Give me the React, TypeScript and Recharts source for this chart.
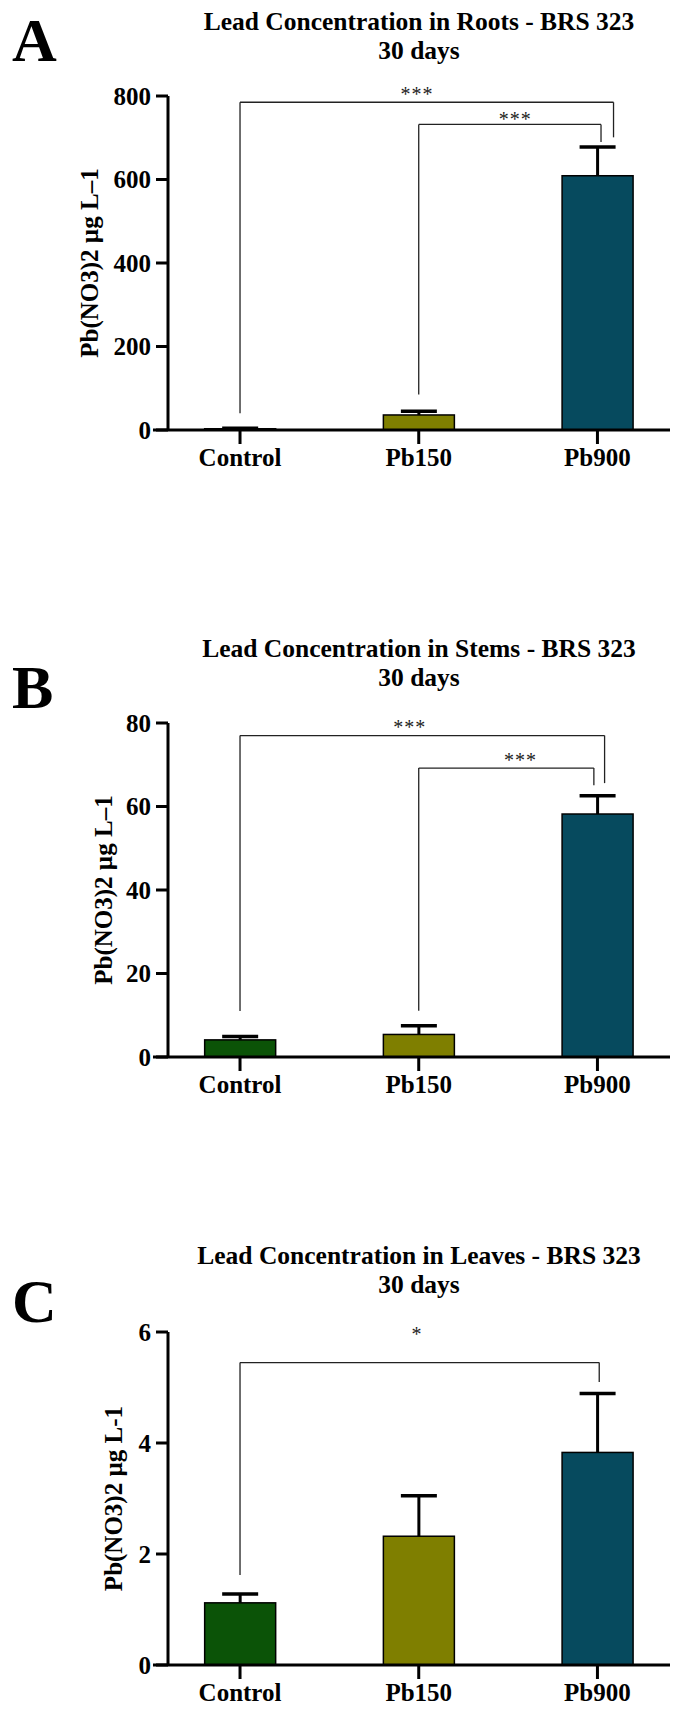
import React from 'react';
import { ComposedChart, Bar, XAxis, YAxis, ReferenceLine, ReferenceDot, Cell } from 'recharts';

// ---------- data ----------
const categories = ['Control', 'Pb150', 'Pb900'];
const categoryPositions = [0, 1, 2];

const rootsMeans = [3, 36, 609];
const rootsErrors = [1, 9, 69];
const stemsMeans = [4.1, 5.4, 58.2];
const stemsErrors = [0.8, 2.1, 4.4];
const leavesMeans = [1.12, 2.32, 3.83];
const leavesErrors = [0.16, 0.73, 1.06];

const rootsTicks = [0, 200, 400, 600, 800];
const stemsTicks = [0, 20, 40, 60, 80];
const leavesTicks = [0, 2, 4, 6];

// significance brackets: x in category units, y in data units
const rootsBrackets = [
  { x1: 0, x2: 2.09, y: 785, y1: 40, y2: 701 },
  { x1: 1, x2: 2.02, y: 732, y1: 85, y2: 690 },
];
const rootsStars = [
  { x: 0.99, y: 805, text: '***' },
  { x: 1.54, y: 745, text: '***' },
];
const stemsBrackets = [
  { x1: 0, x2: 2.04, y: 77, y1: 11, y2: 65.6 },
  { x1: 1, x2: 1.98, y: 69.2, y1: 11.1, y2: 65.1 },
];
const stemsStars = [
  { x: 0.95, y: 79, text: '***' },
  { x: 1.57, y: 71.1, text: '***' },
];
const leavesBrackets = [{ x1: 0, x2: 2.01, y: 5.45, y1: 1.62, y2: 5.1 }];
const leavesStars = [{ x: 0.99, y: 5.96, text: '*' }];

const titles = [
  'Lead Concentration in Roots - BRS 323',
  'Lead Concentration in Stems - BRS 323',
  'Lead Concentration in Leaves - BRS 323',
];
const subtitle = '30 days';
const panelLetters = ['A', 'B', 'C'];
const yLabels = ['Pb(NO3)2 µg L–1', 'Pb(NO3)2 µg L–1', 'Pb(NO3)2 µg L-1'];

// ---------- styles ----------
const barColors = ['#0b5307', '#7f7f00', '#064a5e'];
const FONT = "'Liberation Serif', 'Times New Roman', serif";
const X_DOMAIN: [number, number] = [-0.403, 2.406];
const X_AXIS_START = -0.487;

function buildData(means: number[], errs: number[]) {
  return categories.map((c, i) => ({ name: c, pos: categoryPositions[i], value: means[i], err: errs[i] }));
}

const BarWithError = (props: any) => {
  const { x, y, width, height, fill, payload } = props;
  const v = payload.value;
  const unit = v ? height / v : 0;
  const cx = x + width / 2;
  const top = y - payload.err * unit;
  return (
    <g>
      <line x1={cx} x2={cx} y1={y} y2={top} stroke="#000" strokeWidth={3} />
      <line x1={cx - 18} x2={cx + 18} y1={top} y2={top} stroke="#000" strokeWidth={3.5} />
      <rect x={x} y={y} width={width} height={Math.max(height, 0.5)} fill={fill} stroke="#000" strokeWidth={1.5} />
    </g>
  );
};

type PanelProps = {
  top: number;
  height: number;
  plotTop: number;
  bottomMargin: number;
  means: number[];
  errs: number[];
  ticks: number[];
  brackets: { x1: number; x2: number; y: number; y1: number; y2: number }[];
  stars: { x: number; y: number; text: string }[];
};

function Panel({ top, height, plotTop, bottomMargin, means, errs, ticks, brackets, stars }: PanelProps) {
  const data = buildData(means, errs);
  const yMax = ticks[ticks.length - 1];
  const bracketStroke = '#222';
  return (
    <div style={{ position: 'absolute', left: 0, top, width: 685, height }}>
      <ComposedChart width={685} height={height} data={data} margin={{ top: plotTop, right: 15, bottom: bottomMargin, left: 108 }}>
        <XAxis
          type="number"
          dataKey="pos"
          domain={X_DOMAIN}
          ticks={categoryPositions}
          tickFormatter={(v: number) => categories[Math.round(v)]}
          axisLine={false}
          tickLine={{ stroke: '#000', strokeWidth: 3 }}
          tickSize={14}
          tickMargin={4}
          height={40}
          allowDataOverflow
          interval={0}
          tick={{ fill: '#000', fontSize: 25, fontWeight: 'bold', fontFamily: FONT }}
        />
        <YAxis
          type="number"
          domain={[0, yMax]}
          ticks={ticks}
          interval={0}
          width={60}
          axisLine={{ stroke: '#000', strokeWidth: 3 }}
          tickLine={{ stroke: '#000', strokeWidth: 3 }}
          tickSize={12}
          tickMargin={5}
          allowDataOverflow
          tick={{ fill: '#000', fontSize: 25, fontWeight: 'bold', fontFamily: FONT }}
        />
        {brackets.map((b, i) => (
          <ReferenceLine key={`bl${i}`} segment={[{ x: b.x1, y: b.y1 }, { x: b.x1, y: b.y }]} stroke={bracketStroke} strokeWidth={1.3} ifOverflow="visible" />
        ))}
        {brackets.map((b, i) => (
          <ReferenceLine key={`bt${i}`} segment={[{ x: b.x1, y: b.y }, { x: b.x2, y: b.y }]} stroke={bracketStroke} strokeWidth={1.3} ifOverflow="visible" />
        ))}
        {brackets.map((b, i) => (
          <ReferenceLine key={`br${i}`} segment={[{ x: b.x2, y: b.y }, { x: b.x2, y: b.y2 }]} stroke={bracketStroke} strokeWidth={1.3} ifOverflow="visible" />
        ))}
        <Bar dataKey="value" barSize={71} shape={BarWithError} isAnimationActive={false}>
          {data.map((d, i) => (
            <Cell key={d.name} fill={barColors[i]} />
          ))}
        </Bar>
        <ReferenceLine segment={[{ x: X_AXIS_START, y: 0 }, { x: X_DOMAIN[1], y: 0 }]} stroke="#000" strokeWidth={3} ifOverflow="visible" />
        {stars.map((s, i) => (
          <ReferenceDot
            key={`s${i}`}
            x={s.x}
            y={s.y}
            r={0}
            fill="none"
            stroke="none"
            ifOverflow="visible"
            label={{ value: s.text, position: 'center', fill: '#222', fontSize: 20, fontFamily: FONT, letterSpacing: 1 }}
          />
        ))}
      </ComposedChart>
    </div>
  );
}

// page-level layout (px)
const panelLayout = [
  { top: 0, height: 500, plotTop: 96, plotBottom: 430, titleY: 21, letterY: 40, yLabelX: 89 },
  { top: 560, height: 560, plotTop: 723, plotBottom: 1057, titleY: 648, letterY: 687, yLabelX: 103 },
  { top: 1180, height: 529, plotTop: 1332, plotBottom: 1665, titleY: 1255, letterY: 1301, yLabelX: 113 },
];

export default function App() {
  const sets = [
    { means: rootsMeans, errs: rootsErrors, ticks: rootsTicks, brackets: rootsBrackets, stars: rootsStars },
    { means: stemsMeans, errs: stemsErrors, ticks: stemsTicks, brackets: stemsBrackets, stars: stemsStars },
    { means: leavesMeans, errs: leavesErrors, ticks: leavesTicks, brackets: leavesBrackets, stars: leavesStars },
  ];
  return (
    <div style={{ position: 'absolute', left: 0, top: 0, width: 685, height: 1709, background: '#fff', overflow: 'hidden' }}>
      {sets.map((s, i) => {
        const L = panelLayout[i];
        return (
          <Panel
            key={i}
            top={L.top}
            height={L.height}
            plotTop={L.plotTop - L.top}
            bottomMargin={L.top + L.height - L.plotBottom - 40}
            means={s.means}
            errs={s.errs}
            ticks={s.ticks}
            brackets={s.brackets}
            stars={s.stars}
          />
        );
      })}
      <svg width={685} height={1709} style={{ position: 'absolute', left: 0, top: 0, pointerEvents: 'none' }}>
        {panelLayout.map((L, i) => {
          const cy = (L.plotTop + L.plotBottom) / 2;
          return (
            <g key={i} fontFamily={FONT} fontWeight="bold" fill="#000">
              <text x={419} y={L.titleY + 8.5} textAnchor="middle" fontSize={25.5}>{titles[i]}</text>
              <text x={419} y={L.titleY + 37.5} textAnchor="middle" fontSize={25.5}>{subtitle}</text>
              <text x={12} y={L.letterY + 20.5} fontSize={62}>{panelLetters[i]}</text>
              <text x={L.yLabelX} y={cy} textAnchor="middle" dominantBaseline="central" fontSize={25} transform={`rotate(-90 ${L.yLabelX} ${cy})`}>{yLabels[i]}</text>
            </g>
          );
        })}
      </svg>
    </div>
  );
}
